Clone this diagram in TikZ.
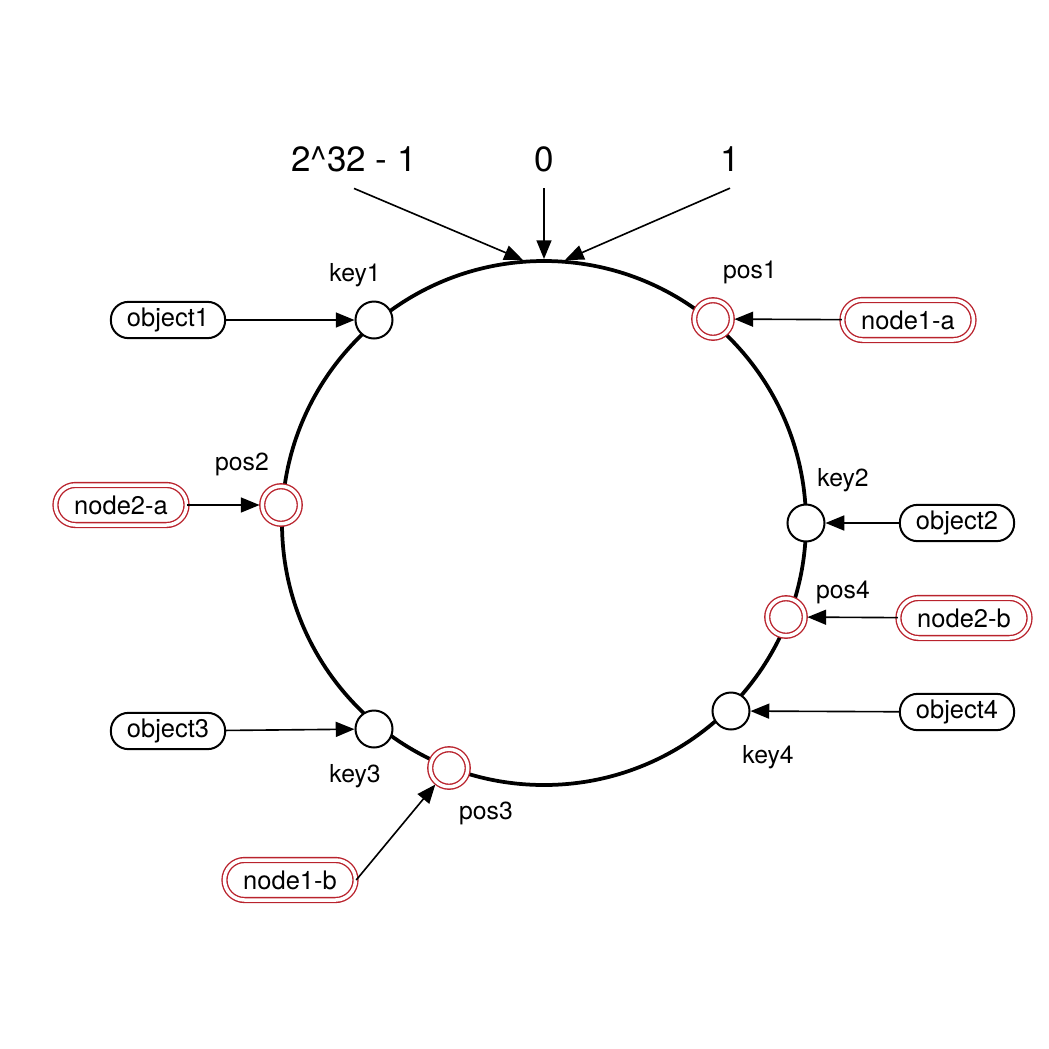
\documentclass[tikz,border=0pt]{standalone}
\usepackage{fontspec}
\setmainfont{TeX Gyre Heros}
\usepackage{xcolor}
\usetikzlibrary{arrows.meta}
\definecolor{ringred}{RGB}{185,35,45}

\tikzset{
  arr/.style={-{Triangle[length=7.5pt,width=6pt]}, line width=0.65pt},
  objbox/.style={draw, line width=0.8pt, rounded corners=7pt, fill=white,
    minimum height=14.5pt, inner xsep=6.4pt, inner ysep=0pt,
    font=\fontsize{10.2}{12}\selectfont},
  nodebox/.style={draw=ringred, double=white, double distance=1.4pt,
    line width=0.55pt, rounded corners=8pt, fill=white,
    minimum height=16pt, inner xsep=7.5pt, inner ysep=0pt,
    font=\fontsize{10.2}{12}\selectfont},
  keydot/.style={circle, draw, line width=0.8pt, fill=white,
    minimum size=14.8pt, inner sep=0pt},
  posdot/.style={circle, draw=ringred, double=white, double distance=1.4pt,
    line width=0.55pt, fill=white, minimum size=15pt, inner sep=0pt},
  lab/.style={font=\fontsize{9.9}{11}\selectfont, inner sep=0pt},
  toplab/.style={font=\fontsize{14}{16}\selectfont, inner xsep=0pt, inner ysep=6.5pt},
}

\begin{document}
\begin{tikzpicture}[x=0.4pt, y=-0.4pt]
  \useasboundingbox (0,0) rectangle (1049,1049);
  % hash ring, coordinates in pixels of the source image
  \draw[line width=1.5pt] (544,523) circle[radius=262];

  % positions on the ring: keys (black) and server points (red)
  \node[keydot] (key1) at (374,320) {};
  \node[keydot] (key2) at (806,523) {};
  \node[keydot] (key3) at (374,729) {};
  \node[keydot] (key4) at (731,711) {};
  \node[posdot] (pos1) at (713,319) {};
  \node[posdot] (pos2) at (281,505) {};
  \node[posdot] (pos3) at (449,768) {};
  \node[posdot] (pos4) at (786,617) {};

  \node[lab] (key1-lab) at (355,275) {key1};
  \node[lab] (key2-lab) at (843,480) {key2};
  \node[lab] (key3-lab) at (355,776) {key3};
  \node[lab] (key4-lab) at (768,757) {key4};
  \node[lab] (pos1-lab) at (750,272) {pos1};
  \node[lab] (pos2-lab) at (242,464) {pos2};
  \node[lab] (pos3-lab) at (486,813) {pos3};
  \node[lab] (pos4-lab) at (843,592) {pos4};

  % objects and server nodes
  \node[objbox] (object1) at (168,320) {object1};
  \node[objbox] (object2) at (957,523) {object2};
  \node[objbox] (object3) at (168,731) {object3};
  \node[objbox] (object4) at (957,712) {object4};
  \node[nodebox] (node1-a) at (908,320) {node1-a};
  \node[nodebox] (node2-a) at (121,505) {node2-a};
  \node[nodebox] (node2-b) at (964,618) {node2-b};
  \node[nodebox] (node1-b) at (290,880) {node1-b};

  \draw[arr] (object1) -- (key1);
  \draw[arr] (object2) -- (key2);
  \draw[arr] (object3) -- (key3);
  \draw[arr] (object4) -- (key4);
  \draw[arr, shorten >=0.8pt] (node1-a) -- (pos1);
  \draw[arr, shorten >=0.8pt] (node2-a) -- (pos2);
  \draw[arr, shorten >=0.8pt] (node2-b) -- (pos4);
  \draw[arr, shorten >=0.8pt] (node1-b.east) -- (pos3);

  % top of the ring
  \node[toplab] (hmax) at (354,159) {2\^{}32 - 1};
  \node[toplab] (hzero) at (544,159) {0};
  \node[toplab] (hone) at (730,159) {1};
  \coordinate (hit-max) at (523,260);
  \coordinate (hit-zero) at (544,259);
  \coordinate (hit-one) at (565,260);
  \draw[arr] (hmax.south) -- (hit-max);
  \draw[arr] (hzero.south) -- (hit-zero);
  \draw[arr] (hone.south) -- (hit-one);
\end{tikzpicture}
\end{document}
